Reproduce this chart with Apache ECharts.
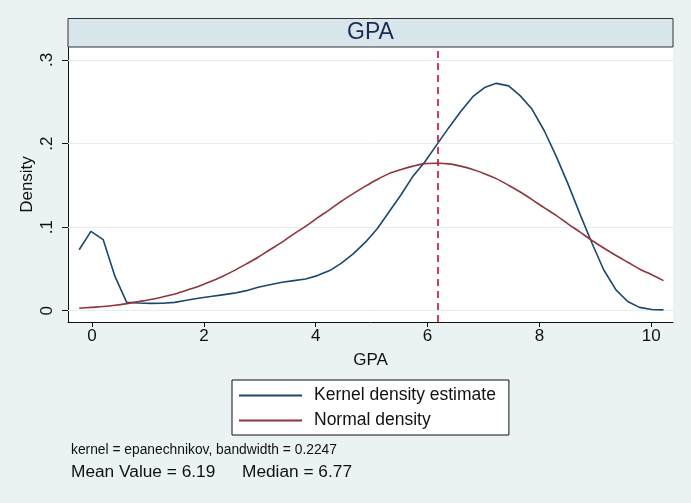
<!DOCTYPE html>
<html>
<head>
<meta charset="utf-8">
<script src="https://cdn.jsdelivr.net/npm/echarts@6.0.0/dist/echarts.min.js"></script>
<style>
html,body{margin:0;padding:0;background:#eaf2f3;}
#chart{width:691px;height:503px;}
</style>
</head>
<body>
<div id="chart"></div>
<script>
// GPA grid points (x) at which both densities are evaluated
const gpaX = [-0.23, -0.02, 0.20, 0.41, 0.62, 0.84, 1.05, 1.26, 1.48, 1.69,
  1.90, 2.12, 2.33, 2.54, 2.76, 2.97, 3.18, 3.40, 3.61, 3.82,
  4.03, 4.25, 4.46, 4.67, 4.89, 5.10, 5.31, 5.53, 5.74, 5.95,
  6.17, 6.38, 6.59, 6.81, 7.02, 7.23, 7.45, 7.66, 7.87, 8.09,
  8.30, 8.51, 8.73, 8.94, 9.15, 9.37, 9.58, 9.79, 10.01, 10.22];
const kernelDensity = [0.073, 0.095, 0.085, 0.041, 0.010, 0.0092, 0.0088, 0.0090, 0.0100, 0.0125,
  0.0150, 0.0170, 0.0190, 0.0210, 0.024, 0.028, 0.031, 0.034, 0.036, 0.038,
  0.042, 0.048, 0.057, 0.068, 0.082, 0.098, 0.118, 0.139, 0.161, 0.178,
  0.199, 0.219, 0.238, 0.256, 0.267, 0.272, 0.269, 0.257, 0.241, 0.215,
  0.185, 0.152, 0.115, 0.081, 0.049, 0.025, 0.011, 0.004, 0.0015, 0.001];
const normalDensity = [0.003, 0.004, 0.005, 0.0065, 0.0085, 0.011, 0.0135, 0.0165, 0.020, 0.0245,
  0.029, 0.035, 0.041, 0.048, 0.056, 0.064, 0.073, 0.082, 0.092, 0.101,
  0.111, 0.121, 0.131, 0.140, 0.149, 0.157, 0.164, 0.169, 0.173, 0.176,
  0.1764, 0.1757, 0.173, 0.169, 0.164, 0.158, 0.150, 0.142, 0.133, 0.123,
  0.114, 0.104, 0.094, 0.084, 0.075, 0.066, 0.058, 0.050, 0.043, 0.036];
const xTicks = [0, 2, 4, 6, 8, 10];
const yTicks = [0, 0.1, 0.2, 0.3];
const yTickLabels = ['0', '.1', '.2', '.3'];
const meanValue = 6.19;
const medianValue = 6.77;
const kernelName = 'Kernel density estimate';
const normalName = 'Normal density';
const noteText = 'kernel = epanechnikov, bandwidth = 0.2247';

const FONT = '"Liberation Sans", Arial, Helvetica, sans-serif';
const chart = echarts.init(document.getElementById('chart'));

function pairs(xs, ys) { return xs.map((x, i) => [x, ys[i]]); }

const option = {
  backgroundColor: '#eaf2f3',
  animation: false,
  textStyle: { fontFamily: FONT },
  grid: {
    left: 68, right: 18, top: 47, bottom: 181,
    show: true, backgroundColor: '#ffffff', borderWidth: 0
  },
  xAxis: {
    type: 'value', min: -0.43, max: 10.39,
    axisLine: { show: true, onZero: false, lineStyle: { color: '#111', width: 1 } },
    axisTick: { show: true, length: 5, customValues: xTicks, lineStyle: { color: '#111' } },
    axisLabel: { customValues: xTicks, fontSize: 17, color: '#111', margin: 6, fontFamily: FONT },
    splitLine: { show: false },
    name: 'GPA', nameLocation: 'middle', nameGap: 30, nameMoveOverlap: false,
    nameTextStyle: { fontSize: 17, color: '#111', fontFamily: FONT }
  },
  yAxis: {
    type: 'value', min: -0.0135, max: 0.3155,
    axisLine: { show: true, onZero: false, lineStyle: { color: '#111', width: 1 } },
    axisTick: { show: true, length: 6, customValues: yTicks, lineStyle: { color: '#111' } },
    axisLabel: {
      customValues: yTicks, rotate: 90, fontSize: 17, color: '#111', margin: 12, fontFamily: FONT,
      formatter: function (v) {
        const i = yTicks.findIndex(t => Math.abs(t - v) < 1e-9);
        return i >= 0 ? yTickLabels[i] : '';
      }
    },
    splitLine: { show: false },
    name: 'Density', nameLocation: 'middle', nameGap: 32, nameMoveOverlap: false,
    nameTextStyle: { fontSize: 17, color: '#111', fontFamily: FONT }
  },
  legend: {
    data: [kernelName, normalName],
    orient: 'vertical', left: 232, top: 380,
    backgroundColor: '#ffffff', borderColor: '#111', borderWidth: 1, borderRadius: 0,
    padding: [6, 13, 5, 7], itemGap: 6,
    icon: 'rect', itemWidth: 63, itemHeight: 2,
    textStyle: { fontSize: 17.5, color: '#111', lineHeight: 19, padding: [0, 0, 0, 7], fontFamily: FONT }
  },
  series: [
    {
      name: 'grid', type: 'line', data: [], z: 1, silent: true,
      markLine: {
        z: 1, silent: true, symbol: 'none', label: { show: false },
        lineStyle: { color: '#e4edf0', width: 1, type: 'solid' },
        data: yTicks.map(v => ({ yAxis: v }))
      }
    },
    {
      name: kernelName, type: 'line', data: pairs(gpaX, kernelDensity), z: 3,
      showSymbol: false, smooth: false,
      lineStyle: { color: '#1a476f', width: 1.6 }, itemStyle: { color: '#1a476f' }
    },
    {
      name: normalName, type: 'line', data: pairs(gpaX, normalDensity), z: 3,
      showSymbol: false, smooth: 0.3,
      lineStyle: { color: '#90353b', width: 1.6 }, itemStyle: { color: '#90353b' },
      markLine: {
        silent: true, symbol: 'none', label: { show: false },
        lineStyle: { color: '#c8102e', width: 1.6, type: [7, 5] },
        data: [{ xAxis: meanValue }]
      }
    }
  ],
  graphic: [
    { type: 'rect', shape: { x: 68, y: 18.5, width: 605, height: 28.5 },
      style: { fill: '#d8e5eb', stroke: '#333', lineWidth: 1 }, z: 10 },
    { type: 'text', x: 370.5, y: 32.5, z: 11,
      style: { text: 'GPA', fontSize: 23, fill: '#1a2c54', fontFamily: FONT, align: 'center', verticalAlign: 'middle' } },
    { type: 'text', x: 71, y: 450, z: 11,
      style: { text: noteText, fontSize: 13.8, fill: '#111', fontFamily: FONT, align: 'left', verticalAlign: 'middle' } },
    { type: 'text', x: 71, y: 472, z: 11,
      style: { text: 'Mean Value = ' + meanValue.toFixed(2), fontSize: 17.3, fill: '#111', fontFamily: FONT, align: 'left', verticalAlign: 'middle' } },
    { type: 'text', x: 242, y: 472, z: 11,
      style: { text: 'Median = ' + medianValue.toFixed(2), fontSize: 17.3, fill: '#111', fontFamily: FONT, align: 'left', verticalAlign: 'middle' } }
  ]
};
chart.setOption(option);
</script>
</body>
</html>
